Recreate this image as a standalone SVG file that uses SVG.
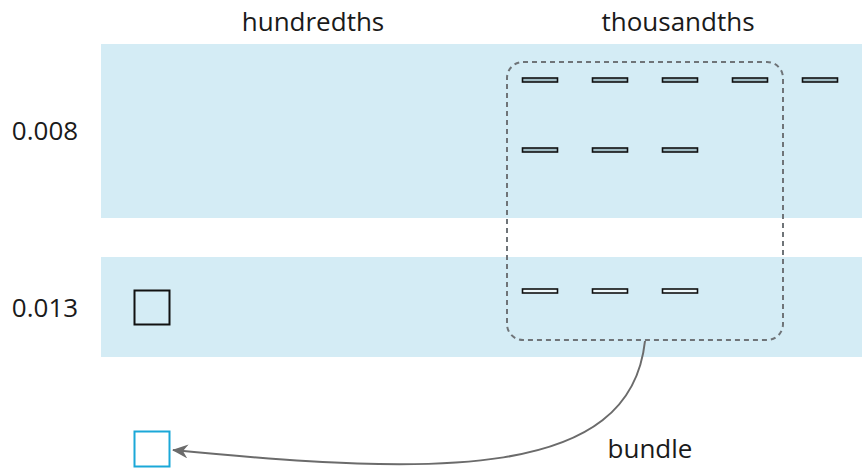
<svg xmlns="http://www.w3.org/2000/svg" width="862" height="470" viewBox="0 0 862 470">
<defs>
<style>
text{font-family:"Open Sans","Liberation Sans",sans-serif;font-size:26px;fill:#1a1a1a}
.band{fill:#d4ecf5}
.bar{stroke:#111;stroke-width:1.6}
.bt{fill:#9fbac2}
.bb{fill:#eef8fb}
</style>
<marker id="arr" viewBox="0 0 16 14" refX="15" refY="7" markerWidth="16" markerHeight="14" markerUnits="userSpaceOnUse" orient="auto">
<path d="M0,0 L16,7 L0,14 L5,7 Z" fill="#6b6b6b"/>
</marker>
</defs>
<g id="bands">
<rect class="band" x="101" y="44" width="761" height="174"/>
<rect class="band" x="101" y="257" width="761" height="100"/>
</g>
<g id="labels">
<text x="313" y="31" text-anchor="middle">hundredths</text>
<text x="678" y="31" text-anchor="middle">thousandths</text>
<text x="45" y="140" text-anchor="middle">0.008</text>
<text x="45" y="317" text-anchor="middle">0.013</text>
<text x="650" y="458" text-anchor="middle">bundle</text>
</g>
<g id="group-box">
<rect x="507" y="62" width="276" height="278" rx="16" fill="none" stroke="#6f7478" stroke-width="2" stroke-dasharray="5,4"/>
</g>
<g id="thousandths-row1">
<rect class="bar bt" x="522.5" y="78" width="35" height="4"/>
<rect class="bar bt" x="592.5" y="78" width="35" height="4"/>
<rect class="bar bt" x="662.5" y="78" width="35" height="4"/>
<rect class="bar bt" x="732.5" y="78" width="35" height="4"/>
<rect class="bar bt" x="802.5" y="78" width="35" height="4"/>
<rect class="bar bt" x="522.5" y="148" width="35" height="4"/>
<rect class="bar bt" x="592.5" y="148" width="35" height="4"/>
<rect class="bar bt" x="662.5" y="148" width="35" height="4"/>
</g>
<g id="thousandths-row2">
<rect class="bar bb" x="522.5" y="289" width="35" height="4"/>
<rect class="bar bb" x="592.5" y="289" width="35" height="4"/>
<rect class="bar bb" x="662.5" y="289" width="35" height="4"/>
</g>
<g id="hundredth">
<rect x="134.5" y="290.5" width="35" height="34" fill="none" stroke="#111" stroke-width="2"/>
</g>
<g id="result">
<rect x="134.5" y="431.5" width="35" height="35" fill="#fff" stroke="#1ba8d8" stroke-width="2"/>
</g>
<g id="connectors">
<path d="M645,341 C 630,480 440,476 173,450" fill="none" stroke="#6b6b6b" stroke-width="2" marker-end="url(#arr)"/>
</g>
</svg>
